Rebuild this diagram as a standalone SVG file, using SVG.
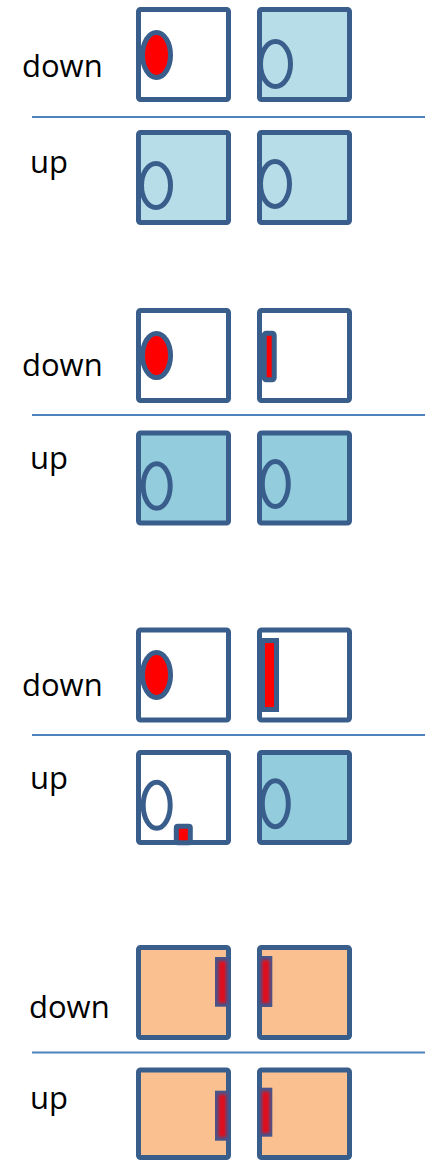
<svg xmlns="http://www.w3.org/2000/svg" width="430" height="1161" viewBox="0 0 430 1161">
  <defs>
    <style>
      .box { stroke: #3a5e8c; stroke-width: 5; stroke-linejoin: round; }
      .white { fill: #ffffff; }
      .pale { fill: #b7dde8; }
      .blue { fill: #93cddd; }
      .peach { fill: #fac090; }
      .ring { stroke: #3a5e8c; stroke-width: 5; }
      .red { fill: #ff0000; }
      .sep { stroke: #4f81bd; stroke-width: 2; }
      .lbl { font-family: "Open Sans", "Liberation Sans", sans-serif; font-size: 31px; fill: #000000; }
      .bar { fill: #46558c; }
      .core { fill: #e0101c; filter: url(#soft); }
    </style>
    <filter id="soft" x="-50%" y="-20%" width="200%" height="140%">
      <feGaussianBlur stdDeviation="1.6"/>
    </filter>
  </defs>

  <!-- separators between down / up rows -->
  <g id="separators">
    <line class="sep" x1="32" y1="117" x2="425" y2="117"/>
    <line class="sep" x1="32" y1="415" x2="425" y2="415"/>
    <line class="sep" x1="32" y1="735" x2="425" y2="735"/>
    <line class="sep" x1="32" y1="1052.5" x2="425" y2="1052.5"/>
  </g>

  <!-- labels -->
  <g id="labels">
    <text class="lbl" x="22" y="77">down</text>
    <text class="lbl" x="30" y="173">up</text>
    <text class="lbl" x="22" y="376">down</text>
    <text class="lbl" x="30" y="469">up</text>
    <text class="lbl" x="22" y="696">down</text>
    <text class="lbl" x="30" y="789">up</text>
    <text class="lbl" x="29" y="1018">down</text>
    <text class="lbl" x="30" y="1109">up</text>
  </g>

  <!-- set 1 -->
  <g id="s1-down-left">
    <rect class="box white" x="138.5" y="9.5" width="90" height="90" rx="2"/>
    <ellipse class="ring red" cx="156.5" cy="55" rx="14" ry="22.5"/>
  </g>
  <g id="s1-down-right">
    <rect class="box pale" x="259.5" y="9.5" width="90" height="90" rx="2"/>
    <ellipse class="ring" fill="none" cx="275.5" cy="64" rx="15" ry="22.5"/>
  </g>
  <g id="s1-up-left">
    <rect class="box pale" x="138.5" y="132.5" width="90" height="90" rx="2"/>
    <ellipse class="ring" fill="none" cx="156" cy="185.5" rx="14.5" ry="22"/>
  </g>
  <g id="s1-up-right">
    <rect class="box pale" x="259.5" y="132.5" width="90" height="90" rx="2"/>
    <ellipse class="ring" fill="none" cx="275" cy="184" rx="14.5" ry="22.5"/>
  </g>

  <!-- set 2 -->
  <g id="s2-down-left">
    <rect class="box white" x="138.5" y="310.5" width="90" height="90" rx="2"/>
    <ellipse class="ring red" cx="156.5" cy="355.5" rx="14" ry="22"/>
  </g>
  <g id="s2-down-right">
    <rect class="box white" x="259.5" y="310.5" width="90" height="90" rx="2"/>
    <rect class="ring red" x="264.2" y="333.2" width="10" height="46.6" rx="2"/>
  </g>
  <g id="s2-up-left">
    <rect class="box blue" x="138.5" y="433" width="90" height="90" rx="2"/>
    <ellipse class="ring" fill="none" cx="156.7" cy="486" rx="13.5" ry="22.3"/>
  </g>
  <g id="s2-up-right">
    <rect class="box blue" x="259.5" y="433" width="90" height="90" rx="2"/>
    <ellipse class="ring" fill="none" cx="275.3" cy="484" rx="13" ry="22.5"/>
  </g>

  <!-- set 3 -->
  <g id="s3-down-left">
    <rect class="box white" x="138.5" y="630" width="90" height="90" rx="2"/>
    <ellipse class="ring red" cx="156.5" cy="675" rx="14" ry="22.5"/>
  </g>
  <g id="s3-down-right">
    <rect class="box white" x="259.5" y="630" width="90" height="90" rx="2"/>
    <rect class="ring red" x="262.5" y="640.5" width="14" height="69" stroke-width="4.5"/>
  </g>
  <g id="s3-up-left">
    <rect class="box white" x="138.5" y="752.5" width="90" height="90" rx="2"/>
    <ellipse class="ring white" cx="156.7" cy="805.3" rx="13.5" ry="23"/>
    <rect class="ring red" x="176.3" y="826.3" width="14" height="16.5" rx="1.5" stroke-width="4.5"/>
  </g>
  <g id="s3-up-right">
    <rect class="box blue" x="259.5" y="752.5" width="90" height="90" rx="2"/>
    <ellipse class="ring" fill="none" cx="275.3" cy="803.8" rx="13" ry="23"/>
  </g>

  <!-- set 4 -->
  <g id="s4-down-left">
    <rect class="box peach" x="138.5" y="947.5" width="90" height="90" rx="2"/>
    <rect class="bar" x="215" y="957" width="14.3" height="49.7"/>
    <rect class="core" x="218.5" y="961" width="7.5" height="42"/>
  </g>
  <g id="s4-down-right">
    <rect class="box peach" x="259.5" y="947.5" width="90" height="90" rx="2"/>
    <rect class="bar" x="259.3" y="956" width="13" height="51"/>
    <rect class="core" x="262" y="960" width="7.5" height="43"/>
  </g>
  <g id="s4-up-left">
    <rect class="box peach" x="138.5" y="1070" width="90" height="87.5" rx="2"/>
    <rect class="bar" x="215" y="1090.7" width="14.3" height="50"/>
    <rect class="core" x="218.5" y="1094.5" width="7.5" height="42.5"/>
  </g>
  <g id="s4-up-right">
    <rect class="box peach" x="259.5" y="1070" width="90" height="87.5" rx="2"/>
    <rect class="bar" x="259.3" y="1087.7" width="13" height="49"/>
    <rect class="core" x="262" y="1091.5" width="7.5" height="41.5"/>
  </g>
</svg>
